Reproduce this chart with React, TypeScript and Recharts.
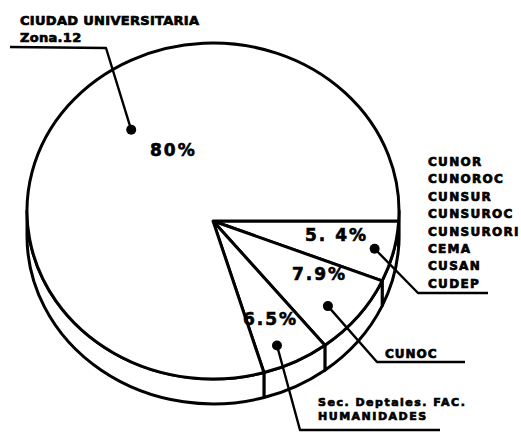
import React from 'react';
import { PieChart, Pie } from 'recharts';

// ---------- data ----------
const categories = [
  'Centros regionales',
  'CUNOC',
  'Sec. Deptales. FAC. HUMANIDADES',
  'CIUDAD UNIVERSITARIA Zona.12',
];
const shares = [5.4, 7.9, 6.5, 80];
const percentLabels = ['5. 4%', '7.9%', '6.5%', '80%'];
const regionalCenters = ['CUNOR', 'CUNOROC', 'CUNSUR', 'CUNSUROC', 'CUNSURORI', 'CEMA', 'CUSAN', 'CUDEP'];
const cunocLabel = ['CUNOC'];
const humanidadesLabel = ['Sec. Deptales. FAC.', 'HUMANIDADES'];
const ciudadLabel = ['CIUDAD UNIVERSITARIA', 'Zona.12'];
const sliceTextLines = [regionalCenters, cunocLabel, humanidadesLabel, ciudadLabel];

const data = categories.map((name, i) => ({ name, value: shares[i] }));

// ---------- geometry / style ----------
const W = 521;
const H = 435;
const APEX_X = 213;
const APEX_Y = 221;
const OUTER = 186;
const TILT = 0.903;
const APEX_OFFSET = 10;
const DEPTH = 25;
const RAD = Math.PI / 180;
const INK = '#000';
const FONT = '"DejaVu Sans", sans-serif';

function geom(cx: number, cy: number, r: number) {
  const rx = r;
  const ry = r * TILT;
  const ex = cx;
  const ey = cy - APEX_OFFSET;
  const hit = (angle: number) => {
    const dx = Math.cos(-angle * RAD);
    const dy = Math.sin(-angle * RAD);
    const ox = cx - ex;
    const oy = cy - ey;
    const A = (dx * dx) / (rx * rx) + (dy * dy) / (ry * ry);
    const B = 2 * ((ox * dx) / (rx * rx) + (oy * dy) / (ry * ry));
    const C = (ox * ox) / (rx * rx) + (oy * oy) / (ry * ry) - 1;
    const t = (-B + Math.sqrt(B * B - 4 * A * C)) / (2 * A);
    return { x: cx + t * dx, y: cy + t * dy };
  };
  const phi = (p: { x: number; y: number }) => Math.atan2((p.y - ey) / ry, (p.x - ex) / rx);
  const pt = (fv: number, down = 0) => ({ x: ex + rx * Math.cos(fv), y: ey + ry * Math.sin(fv) + down });
  return { rx, ry, hit, phi, pt };
}

const f = (n: number) => n.toFixed(2);

function sliceLabel(props: any) {
  const { cx, cy, outerRadius, startAngle, endAngle, index } = props;
  const g = geom(cx, cy, outerRadius);
  const p1 = g.hit(startAngle);
  const p2 = g.hit(endAngle);
  const TWO = Math.PI * 2;
  let s = g.phi(p1);
  if (s < 0) s += TWO;
  let span = g.phi(p2) - g.phi(p1);
  while (span < 0) span += TWO;
  while (span >= TWO) span -= TWO;
  const large = span > Math.PI ? 1 : 0;
  const top = `M${f(cx)},${f(cy)} L${f(p1.x)},${f(p1.y)} A${f(g.rx)},${f(g.ry)} 0 ${large} 1 ${f(p2.x)},${f(p2.y)} Z`;
  const e = s + span;
  const rims: string[] = [];
  for (const [lo, hi] of [[0, Math.PI], [TWO, TWO + Math.PI]]) {
    const a = Math.max(s, lo);
    const b = Math.min(e, hi);
    if (b - a > 1e-4) {
      const pa = g.pt(a), pb = g.pt(b), qa = g.pt(a, DEPTH), qb = g.pt(b, DEPTH);
      const lg = b - a > Math.PI ? 1 : 0;
      rims.push(
        `M${f(pa.x)},${f(pa.y)} A${f(g.rx)},${f(g.ry)} 0 ${lg} 1 ${f(pb.x)},${f(pb.y)} L${f(qb.x)},${f(qb.y)} A${f(g.rx)},${f(g.ry)} 0 ${lg} 0 ${f(qa.x)},${f(qa.y)} Z`
      );
    }
  }
  return (
    <g key={`slice-${index}`}>
      {rims.map((d, k) => (
        <path key={k} d={d} fill="#fff" stroke={INK} strokeWidth={3} strokeLinejoin="round" />
      ))}
      <path d={top} fill="#fff" stroke={INK} strokeWidth={3} strokeLinejoin="round" />
    </g>
  );
}

// annotation layout per slice (positions only)
const layout = [
  { dotDist: 164, dotTurn: 0, path: [[418, 293], [488, 293]], pct: [305, 241], text: [428, 166], gap: 17.4, size: 12, spacing: 1.3 },
  { dotDist: 143, dotTurn: -2.8, path: [[377, 362], [465, 362]], pct: [292, 280], text: [385, 358], gap: 14, size: 12, spacing: 1 },
  { dotDist: 140, dotTurn: -3.1, path: [[300, 430], [440, 430]], pct: [243, 325], text: [318, 406], gap: 13.5, size: 11, spacing: 1.5 },
  { dotDist: 122.5, dotTurn: -12.4, path: [[106, 48], [10, 47]], pct: [150, 156], text: [20, 25], gap: 17, size: 13, spacing: 0.3 },
];

function annotationLabel(props: any) {
  const { cx, cy, midAngle, index } = props;
  const L = layout[index];
  const a = (midAngle + L.dotTurn) * RAD;
  const dot = { x: cx + L.dotDist * Math.cos(-a), y: cy + L.dotDist * Math.sin(-a) };
  const pts = [[dot.x, dot.y], ...L.path].map((p) => `${f(p[0])},${f(p[1])}`).join(' ');
  const lines = sliceTextLines[index];
  return (
    <g key={`ann-${index}`}>
      <polyline points={pts} fill="none" stroke={INK} strokeWidth={2.4} strokeLinejoin="round" />
      <circle cx={dot.x} cy={dot.y} r={5} fill={INK} />
      <text
        x={L.pct[0]}
        y={L.pct[1]}
        fontFamily={FONT}
        fontWeight="bold"
        fontSize={17}
        letterSpacing={2}
        fill={INK}
        stroke={INK}
        strokeWidth={0.6}
        textAnchor="start"
      >
        {percentLabels[index]}
      </text>
      {lines.map((t, k) => (
        <text
          key={k}
          x={L.text[0]}
          y={L.text[1] + k * L.gap}
          fontFamily={FONT}
          fontWeight="bold"
          fontSize={L.size}
          letterSpacing={L.spacing}
          fill={INK}
          stroke={INK}
          strokeWidth={0.7}
          textAnchor="start"
        >
          {t}
        </text>
      ))}
    </g>
  );
}

export default function App() {
  return (
    <div style={{ position: 'absolute', left: 0, top: 0, width: W, height: H, background: '#fff' }}>
      <PieChart width={W} height={H} margin={{ top: 0, right: 0, bottom: 0, left: 0 }}>
        <Pie
          data={data}
          dataKey="value"
          nameKey="name"
          cx={APEX_X}
          cy={APEX_Y}
          outerRadius={OUTER}
          startAngle={0}
          endAngle={-360}
          fill="none"
          stroke="none"
          isAnimationActive={false}
          labelLine={false}
          label={sliceLabel}
        />
        <Pie
          data={data}
          dataKey="value"
          nameKey="name"
          cx={APEX_X}
          cy={APEX_Y}
          outerRadius={OUTER}
          startAngle={0}
          endAngle={-360}
          fill="none"
          stroke="none"
          isAnimationActive={false}
          labelLine={false}
          label={annotationLabel}
        />
      </PieChart>
    </div>
  );
}
